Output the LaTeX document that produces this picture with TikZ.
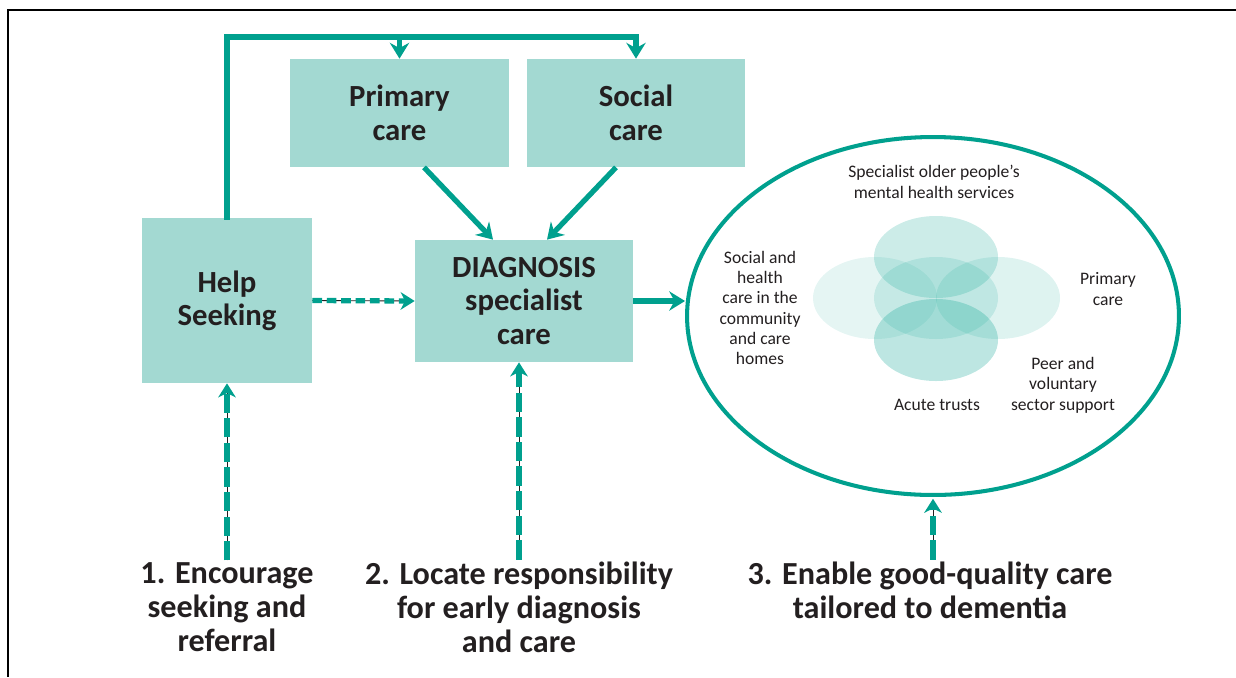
\documentclass[tikz,border=0pt]{standalone}
\usepackage{fontspec}
\setmainfont{Carlito}
\usetikzlibrary{arrows.meta,shapes.geometric}
\definecolor{cteal}{HTML}{00A08E}
\definecolor{cbox}{HTML}{A3D9D2}
\definecolor{cink}{HTML}{231F20}

\tikzset{
  box/.style={fill=cbox, inner sep=0pt, align=center, text=cink,
    font=\bfseries\fontsize{17.5}{19}\selectfont},
  link/.style={draw=cteal, line width=3pt, -{Stealth[length=9pt,width=11pt,inset=3pt]}},
  hint/.style={draw=cteal, line width=3pt, dash pattern=#1,
    -{Stealth[length=8pt,width=10pt,inset=2.5pt]},
    preaction={draw=cink, line width=0.5pt, solid, -, shorten >=5pt}},
  hint/.default={on 5.5pt off 2.7pt},
  goal/.style={align=center, text=cink, inner sep=1pt,
    font=\bfseries\fontsize{18.3}{19.3}\selectfont},
  note/.style={align=center, text=cink, inner sep=0pt,
    font=\fontsize{10}{11.6}\selectfont},
  bubble/.style={fill=cteal, fill opacity=#1},
}

\begin{document}
\begin{tikzpicture}[x=0.02cm, y=-0.02cm]
  \useasboundingbox (0,0) rectangle (1236,677);

  % frame
  \draw[line width=1.7pt] (1236,10) -- (8,10) -- (8,677);

  % boxes
  \node[box, minimum width=3.4cm, minimum height=3.3cm] (help) at (227,300.5) {Help\\Seeking};
  \node[box, minimum width=4.38cm, minimum height=2.16cm] (primary) at (399.5,113) {Primary\\care};
  \node[box, minimum width=4.36cm, minimum height=2.16cm] (social) at (636,113) {Social\\care};
  \node[box, minimum width=4.36cm, minimum height=2.44cm] (diag) at (524,301) {DIAGNOSIS\\specialist\\care};

  % services
  \fill[bubble=0.1] (875,298) ellipse (62 and 41);
  \fill[bubble=0.14] (936,298) ellipse (62 and 41);
  \fill[bubble=0.2] (936,257) ellipse (62 and 41);
  \fill[bubble=0.26] (936,340) ellipse (62 and 41);
  \fill[bubble=0.13] (998,298) ellipse (62 and 41);
  \node[draw=cteal, line width=2.3pt, ellipse, inner sep=0pt,
    minimum width=9.84cm, minimum height=7.16cm] (ring) at (933,316) {};

  \node[note] (nMental) at (934,182) {Specialist older people's\\mental health services};
  \node[note] (nSocial) at (760,308) {Social and\\health\\care in the\\community\\and care\\homes};
  \node[note] (nPrimary) at (1108,289) {Primary\\care};
  \node[note] (nPeer) at (1063,385) {Peer and\\voluntary\\sector support};
  \node[note] (nAcute) at (937,405) {Acute trusts};

  % aims
  \node[goal] (aim1) at (227,607) {1. Encourage\\seeking and\\referral};
  \node[goal] (aim2) at (519,607) {2. Locate responsibility\\for early diagnosis\\and care};
  \node[goal] (aim3) at (930,590) {3. Enable good-quality care\\tailored to dementia};

  % connectors
  \coordinate (bus) at (0,37);
  \draw[draw=cteal, line width=3pt, line cap=rect] (help.north) -- (help.north |- bus) -- (social.north |- bus);
  \draw[link] (primary.north |- bus) -- (primary.north);
  \draw[link] (social.north |- bus) -- (social.north);
  \draw[link] ([xshift=0.49cm]primary.south) -- ([xshift=-0.62cm]diag.north);
  \draw[link] ([xshift=-0.4cm]social.south) -- ([xshift=0.46cm]diag.north);
  \draw[hint] (help.east) -- (diag.west);
  \draw[link] (diag.east) -- (diag.east -| ring.west);

  \draw[hint={on 11pt off 3pt}] (aim1.north) -- (aim1.north |- help.south);
  \draw[hint={on 11pt off 3pt}] (aim2.north) -- (aim2.north |- diag.south);
  \draw[hint={on 11pt off 3pt}, shorten >=1pt] (aim3.north -| ring.south) -- (ring.south);
\end{tikzpicture}
\end{document}
